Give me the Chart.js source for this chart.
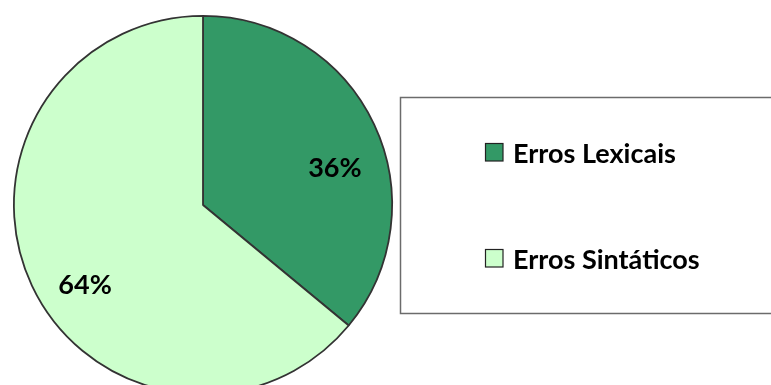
<!DOCTYPE html>
<html>
<head>
<meta charset="utf-8">
<script src="https://cdn.jsdelivr.net/npm/chart.js@4.4.0/dist/chart.umd.min.js"></script>
<style>
  html, body { margin: 0; padding: 0; background: #fff; overflow: hidden; }
  #wrap { width: 771px; height: 385px; overflow: hidden; position: relative; }
  canvas { display: block; }
</style>
</head>
<body>
<div id="wrap"><canvas id="grafico" width="771" height="410"></canvas></div>
<script>
// dados do gráfico
const categorias = ['Erros Lexicais', 'Erros Sintáticos'];
const valores = [36, 64];
const rotulos = ['36%', '64%'];
const cores = ['#339966', '#CCFFCC'];

const FONTE = 'bold 27px Lato, "Open Sans", sans-serif';

// rótulos de porcentagem dentro das fatias
const pluginRotulos = {
    id: 'rotulos',
    afterDatasetsDraw(chart) {
        const ctx = chart.ctx;
        const arcs = chart.getDatasetMeta(0).data;
        ctx.save();
        ctx.font = FONTE;
        ctx.fillStyle = '#000';
        ctx.textAlign = 'center';
        ctx.textBaseline = 'middle';
        arcs.forEach((arc, i) => {
            const meio = (arc.startAngle + arc.endAngle) / 2;
            const r = arc.outerRadius * 0.73;
            const x = arc.x + Math.cos(meio) * r + 7;
            const y = arc.y + Math.sin(meio) * r + 22;
            ctx.fillText(rotulos[i], x, y);
        });
        ctx.restore();
    }
};

// legenda em caixa à direita
const pluginLegenda = {
    id: 'legendaCaixa',
    afterDraw(chart) {
        const ctx = chart.ctx;
        ctx.save();
        ctx.strokeStyle = '#6b6b6b';
        ctx.lineWidth = 1.5;
        ctx.strokeRect(400.5, 97.5, 400, 216);
        ctx.font = FONTE;
        ctx.textBaseline = 'alphabetic';
        ctx.textAlign = 'left';
        categorias.forEach((nome, i) => {
            const yTopo = 143 + i * 106;
            ctx.fillStyle = cores[i];
            ctx.fillRect(485, yTopo, 18, 18);
            ctx.strokeStyle = '#222';
            ctx.lineWidth = 1.2;
            ctx.strokeRect(485.5, yTopo + 0.5, 17.5, 17.5);
            ctx.fillStyle = '#000';
            ctx.fillText(nome, 513, yTopo + 20);
        });
        ctx.restore();
    }
};

new Chart(document.getElementById('grafico'), {
    type: 'pie',
    data: {
        labels: categorias,
        datasets: [{
            data: valores,
            backgroundColor: cores,
            borderColor: '#333',
            borderWidth: 1.8
        }]
    },
    options: {
        responsive: false,
        animation: false,
        layout: { padding: { left: 13, top: 15, bottom: 15, right: 378 } },
        plugins: {
            legend: { display: false },
            tooltip: { enabled: false }
        }
    },
    plugins: [pluginRotulos, pluginLegenda]
});
</script>
</body>
</html>
